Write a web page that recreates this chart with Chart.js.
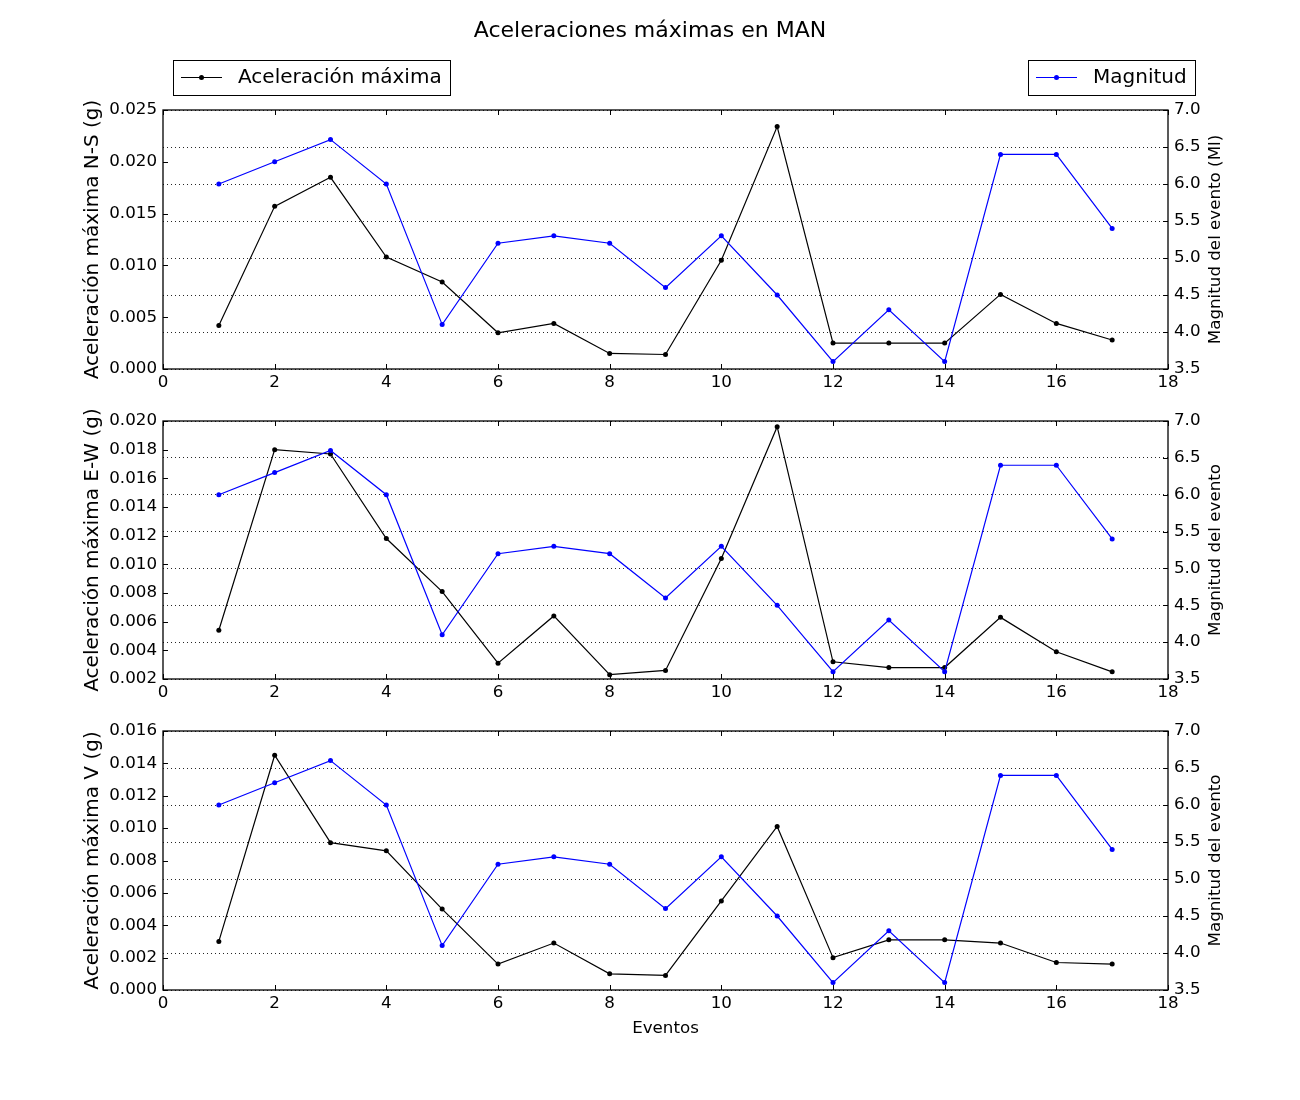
<!DOCTYPE html>
<html>
<head>
<meta charset="utf-8">
<script src="https://cdn.jsdelivr.net/npm/chart.js@4.4.1/dist/chart.umd.min.js"></script>
<style>
  body { margin: 0; background: #fff; }
  #wrap { position: relative; width: 1300px; height: 1100px; background: #fff; }
  canvas { position: absolute; left: 0; }
</style>
</head>
<body>
<div id="wrap">
  <canvas id="chartNS" width="1300" height="400" style="top:0px"></canvas>
  <canvas id="chartEW" width="1300" height="310" style="top:400px"></canvas>
  <canvas id="chartV" width="1300" height="390" style="top:710px"></canvas>
</div>
<script>
// eventos (eje x)
var eventos = [1, 2, 3, 4, 5, 6, 7, 8, 9, 10, 11, 12, 13, 14, 15, 16, 17];
// magnitud del evento (Ml), eje derecho
var magnitud = [6.0, 6.3, 6.6, 6.0, 4.1, 5.2, 5.3, 5.2, 4.6, 5.3, 4.5, 3.6, 4.3, 3.6, 6.4, 6.4, 5.4];
// aceleraciones maximas (g)
var acelNS = [0.0042, 0.0157, 0.0185, 0.0108, 0.0084, 0.0035, 0.0044, 0.0015, 0.0014, 0.0105, 0.0234, 0.0025, 0.0025, 0.0025, 0.0072, 0.0044, 0.0028];
var acelEW = [0.0054, 0.0180, 0.0177, 0.0118, 0.0081, 0.0031, 0.0064, 0.0023, 0.0026, 0.0104, 0.0196, 0.0032, 0.0028, 0.0028, 0.0063, 0.0039, 0.0025];
var acelV = [0.0030, 0.0145, 0.0091, 0.0086, 0.0050, 0.0016, 0.0029, 0.0010, 0.0009, 0.0055, 0.0101, 0.0020, 0.0031, 0.0031, 0.0029, 0.0017, 0.0016];
// rangos de los ejes [min, max, paso]
var rangoNS = [0, 0.025, 0.005];
var rangoEW = [0.002, 0.020, 0.002];
var rangoV = [0, 0.016, 0.002];
var rangoMag = [3.5, 7.0, 0.5];
var rangoX = [0, 18, 2];

Chart.defaults.font.family = 'DejaVu Sans';
Chart.defaults.color = '#000';

function toXY(vals) {
  return eventos.map(function (e, i) { return { x: e, y: vals[i] }; });
}

// marco, ticks hacia dentro y titulo del eje derecho
var framePlugin = {
  id: 'frame',
  afterDraw: function (chart, args, opts) {
    var a = chart.chartArea, ctx = chart.ctx;
    var sx = chart.scales.x, sy = chart.scales.y, sy1 = chart.scales.y1;
    ctx.save();
    ctx.strokeStyle = '#000';
    ctx.lineWidth = 1;
    ctx.beginPath();
    sx.ticks.forEach(function (t) {
      var px = Math.round(sx.getPixelForValue(t.value)) + 0.5;
      ctx.moveTo(px, a.bottom); ctx.lineTo(px, a.bottom - 5);
      ctx.moveTo(px, a.top); ctx.lineTo(px, a.top + 5);
    });
    sy.ticks.forEach(function (t) {
      var py = Math.round(sy.getPixelForValue(t.value)) + 0.5;
      ctx.moveTo(a.left, py); ctx.lineTo(a.left + 5, py);
    });
    sy1.ticks.forEach(function (t) {
      var py = Math.round(sy1.getPixelForValue(t.value)) + 0.5;
      ctx.moveTo(a.right, py); ctx.lineTo(a.right - 5, py);
    });
    ctx.stroke();
    ctx.lineWidth = 1.3;
    ctx.strokeRect(a.left, a.top, a.right - a.left, a.bottom - a.top);
    if (opts && opts.rightTitle) {
      ctx.translate(a.right + 48, (a.top + a.bottom) / 2);
      ctx.rotate(-Math.PI / 2);
      ctx.fillStyle = '#000';
      ctx.font = '16.7px "DejaVu Sans"';
      ctx.textAlign = 'center';
      ctx.textBaseline = 'middle';
      ctx.fillText(opts.rightTitle, 0, 0);
    }
    ctx.restore();
  }
};

// dos leyendas separadas, una a cada lado
var legendPlugin = {
  id: 'splitLegend',
  afterDraw: function (chart) {
    var a = chart.chartArea, ctx = chart.ctx;
    var sets = chart.data.datasets;
    ctx.save();
    ctx.font = '20px "DejaVu Sans"';
    ctx.textBaseline = 'middle';
    ctx.textAlign = 'left';
    function box(ds, x0, alignRight) {
      var w = 65 + ctx.measureText(ds.label).width + 8;
      if (alignRight) x0 = x0 - w;
      x0 = Math.round(x0);
      var top = 60.5, h = 35, cy = 77.5;
      ctx.fillStyle = '#fff';
      ctx.fillRect(x0, top, w, h);
      ctx.strokeStyle = '#000';
      ctx.lineWidth = 1;
      ctx.strokeRect(x0 + 0.5, top, Math.round(w), h);
      ctx.strokeStyle = ds.borderColor;
      ctx.lineWidth = 1;
      ctx.beginPath();
      ctx.moveTo(x0 + 8, cy); ctx.lineTo(x0 + 49, cy);
      ctx.stroke();
      ctx.fillStyle = ds.borderColor;
      ctx.beginPath();
      ctx.arc(x0 + 28.5, cy, 2.5, 0, Math.PI * 2);
      ctx.fill();
      ctx.fillStyle = '#000';
      ctx.fillText(ds.label, x0 + 65, cy);
    }
    box(sets[1], a.left + 10, false);
    box(sets[0], a.right + 27, true);
    ctx.restore();
  }
};

function panel(id, acel, rango, leftTitle, rightTitle, xHeight, extra) {
  var ctx = document.getElementById(id);
  var xScale = {
    type: 'linear',
    min: rangoX[0], max: rangoX[1],
    ticks: { stepSize: rangoX[2], padding: 4, font: { size: 16.7 }, maxRotation: 0, autoSkip: false },
    grid: { display: false, drawTicks: false },
    border: { display: false },
    afterFit: function (s) { s.height = xHeight; }
  };
  if (extra.xTitle) {
    xScale.title = { display: true, text: extra.xTitle, font: { size: 16.7 }, padding: { top: 0, bottom: 61 } };
  }
  return new Chart(ctx, {
    type: 'line',
    data: {
      datasets: [
        {
          label: 'Magnitud',
          data: toXY(magnitud),
          yAxisID: 'y1',
          borderColor: '#0000ff',
          backgroundColor: '#0000ff',
          borderWidth: 1.2,
          pointRadius: 2.5,
          pointHoverRadius: 2.5,
          pointBorderWidth: 0,
          tension: 0,
          order: 0
        },
        {
          label: 'Aceleración máxima',
          data: toXY(acel),
          yAxisID: 'y',
          borderColor: '#000000',
          backgroundColor: '#000000',
          borderWidth: 1.2,
          pointRadius: 2.5,
          pointHoverRadius: 2.5,
          pointBorderWidth: 0,
          tension: 0,
          order: 1
        }
      ]
    },
    options: {
      responsive: false,
      animation: false,
      devicePixelRatio: 1,
      layout: { padding: { top: extra.padTop || 0 } },
      plugins: {
        legend: { display: false },
        tooltip: { enabled: false },
        title: extra.title ? {
          display: true,
          text: extra.title,
          font: { size: 22, weight: 'normal' },
          color: '#000',
          padding: { top: 17.8, bottom: 65.8 }
        } : { display: false },
        frame: { rightTitle: rightTitle }
      },
      scales: {
        x: xScale,
        y: {
          position: 'left',
          min: rango[0], max: rango[1],
          ticks: {
            stepSize: rango[2], padding: 6, font: { size: 16.7 }, autoSkip: false,
            callback: function (v) { return v.toFixed(3); }
          },
          grid: { display: false, drawTicks: false },
          border: { display: false },
          title: { display: true, text: leftTitle, font: { size: 20 }, padding: { top: 81, bottom: 0 } },
          afterFit: function (s) { s.width = 163; }
        },
        y1: {
          position: 'right',
          min: rangoMag[0], max: rangoMag[1],
          ticks: {
            stepSize: rangoMag[2], padding: 6, font: { size: 16.7 }, autoSkip: false,
            callback: function (v) { return v.toFixed(1); }
          },
          grid: { display: true, drawOnChartArea: true, drawTicks: false, color: 'rgba(0,0,0,0.85)', lineWidth: 1 },
          border: { display: false, dash: [1, 3] },
          afterFit: function (s) { s.width = 132; }
        }
      }
    },
    plugins: extra.legend ? [framePlugin, legendPlugin] : [framePlugin]
  });
}

panel('chartNS', acelNS, rangoNS, 'Aceleración máxima N-S (g)', 'Magnitud del evento (Ml)', 31,
  { title: 'Aceleraciones máximas en MAN', legend: true });
panel('chartEW', acelEW, rangoEW, 'Aceleración máxima E-W (g)', 'Magnitud del evento', 31,
  { padTop: 21 });
panel('chartV', acelV, rangoV, 'Aceleración máxima V (g)', 'Magnitud del evento', 110,
  { padTop: 21, xTitle: 'Eventos' });
</script>
</body>
</html>
